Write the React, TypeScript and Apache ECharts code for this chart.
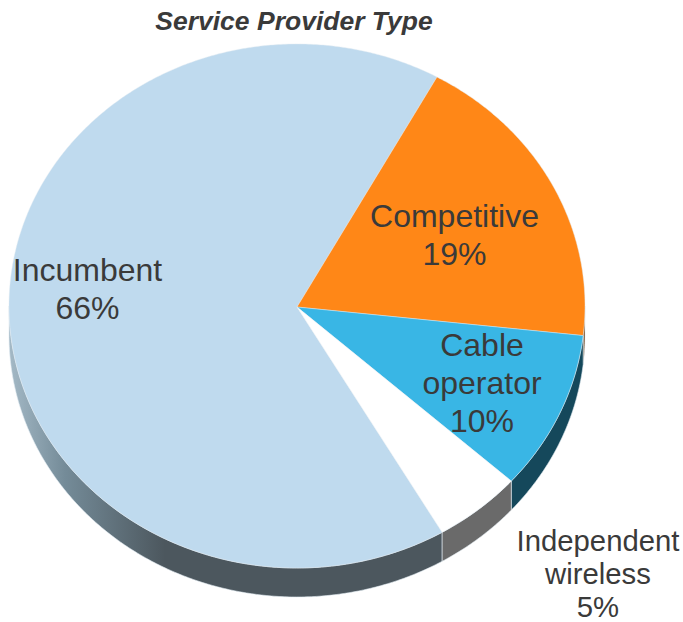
import React, { useEffect, useRef } from "react";
import * as echarts from "echarts";

const categories = ["Incumbent", "Competitive", "Cable\noperator", "Independent\nwireless"];
const shares = [66, 19, 10, 5];
const topColors = ["#BFDAEE", "#FF8717", "#39B6E5", "#FFFFFF"];
const wallColors: any[] = [
  new echarts.graphic.LinearGradient(0, 0, 1, 0, [
    { offset: 0, color: "#A4B9C6" },
    { offset: 0.13, color: "#748B98" },
    { offset: 0.36, color: "#4C575E" },
    { offset: 1, color: "#4C575E" },
  ]),
  "#6B3A0C",
  "#15485B",
  "#6A6A6A",
];

// Tilted-disc geometry, in pixels of the 683x622 canvas.
const CX = 297;
const CY = 306;
const RX = 288;
const RY = 262;
const DEPTH = 29;
const APEX = [297, 307];
const FIRST_SLICE_START_DEG = 150.6; // clockwise from twelve o'clock
const PERSPECTIVE_DEG = 1; // angles bunch slightly towards the viewer on a tilted disc

const labelCentres = [
  { x: 87.5, y: 289, size: 32, leading: 38 },
  { x: 454.5, y: 235, size: 32, leading: 38 },
  { x: 482, y: 382.5, size: 32, leading: 38 },
  { x: 598, y: 573.5, size: 29.3, leading: 33 },
];

const total = shares.reduce((a, b) => a + b, 0);

const rimPoint = (deg: number, dy = 0): number[] => {
  const r = (deg * Math.PI) / 180;
  const t = ((deg + PERSPECTIVE_DEG * Math.cos(r)) * Math.PI) / 180;
  return [CX + RX * Math.sin(t), CY - RY * Math.cos(t) + dy];
};

const arcPoints = (from: number, to: number, dy = 0): number[][] => {
  const n = Math.max(2, Math.ceil(Math.abs(to - from) * 2));
  const pts: number[][] = [];
  for (let i = 0; i <= n; i++) pts.push(rimPoint(from + ((to - from) * i) / n, dy));
  return pts;
};

function renderSlice(params: any, api: any) {
  const i = params.dataIndex;
  const before = shares.slice(0, i).reduce((a, b) => a + b, 0);
  const start = FIRST_SLICE_START_DEG + (before / total) * 360;
  const end = start + (api.value(0) / total) * 360;
  const children: any[] = [];

  // The wall is only visible along the lower half of the rim (90..270 degrees, modulo a turn).
  for (const turn of [0, 360]) {
    const a = Math.max(start, 90 + turn);
    const b = Math.min(end, 270 + turn);
    if (b > a) {
      children.push({
        type: "polygon",
        z2: 1,
        shape: { points: [...arcPoints(a, b), ...arcPoints(b, a, DEPTH)] },
        style: { fill: wallColors[i], stroke: "rgba(225,235,242,0.75)", lineWidth: 0.8 },
      });
    }
  }

  children.push({
    type: "polygon",
    z2: 2,
    shape: { points: [APEX, ...arcPoints(start, end)] },
    style: { fill: topColors[i], stroke: "rgba(225,235,242,0.75)", lineWidth: 0.6 },
  });

  const c = labelCentres[i];
  children.push({
    type: "text",
    z2: 3,
    x: c.x,
    y: c.y,
    style: {
      text: `${categories[i]}\n${api.value(0)}%`,
      fill: "#3A3A3A",
      font: `${c.size}px "Liberation Sans", Arial, sans-serif`,
      lineHeight: c.leading,
      align: "center",
      verticalAlign: "middle",
    },
  });

  return { type: "group", children };
}

export default function App() {
  const ref = useRef<HTMLDivElement>(null);

  useEffect(() => {
    const chart = echarts.init(ref.current!, undefined, { renderer: "svg" });
    chart.setOption({
      animation: false,
      backgroundColor: "#FFFFFF",
      title: {
        text: "Service Provider Type",
        left: 289,
        top: 2,
        textAlign: "center",
        textStyle: {
          color: "#3A3A3A",
          fontFamily: '"Liberation Sans", Arial, sans-serif',
          fontSize: 26.5,
          fontWeight: "bold",
          fontStyle: "italic",
        },
      },
      series: [
        {
          type: "custom",
          coordinateSystem: "none",
          silent: true,
          data: shares.map((v) => [v]),
          renderItem: renderSlice,
        },
      ],
    });
    return () => chart.dispose();
  }, []);

  return (
    <div
      ref={ref}
      style={{ position: "absolute", left: 0, top: 0, width: 683, height: 622 }}
    />
  );
}
